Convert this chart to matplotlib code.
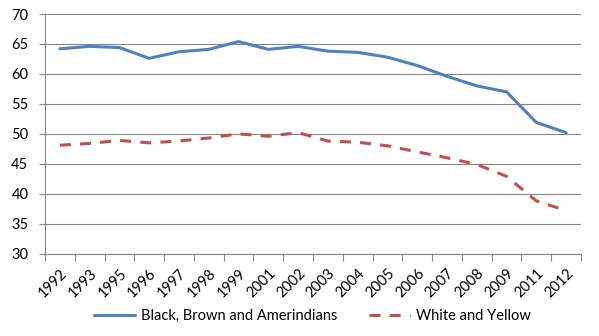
import matplotlib
matplotlib.use("Agg")
import matplotlib.pyplot as plt
import numpy as np

years = ["1992", "1993", "1995", "1996", "1997", "1998", "1999", "2001", "2002",
         "2003", "2004", "2005", "2006", "2007", "2008", "2009", "2011", "2012"]
black_brown = [64.2, 64.6, 64.4, 62.6, 63.7, 64.1, 65.4, 64.1, 64.6,
               63.8, 63.6, 62.8, 61.4, 59.6, 58.0, 57.0, 51.9, 50.2]
white_yellow = [48.1, 48.4, 48.9, 48.5, 48.8, 49.3, 50.0, 49.6, 50.2,
                48.8, 48.6, 48.0, 47.0, 46.0, 44.9, 42.9, 38.8, 37.2]
series_names = ["Black, Brown and Amerindians", "White and Yellow"]
yticks = [30, 35, 40, 45, 50, 55, 60, 65, 70]

plt.rcParams['font.family'] = ['Lato', 'DejaVu Sans']

fig = plt.figure(figsize=(5.99, 3.36), dpi=100)
ax = fig.add_axes([0.0751, 0.245, 0.8949, 0.7133])

x = np.arange(len(years)) + 0.5
gray = "#868686"
ax.plot(x, black_brown, color="#4F81BD", lw=2.2, solid_capstyle="round",
        label=series_names[0], zorder=3)
ax.plot(x, white_yellow, color="#C0504D", lw=2.2, linestyle=(0, (3.6, 3.0)),
        label=series_names[1], zorder=3)

ax.set_xlim(0, len(years))
ax.set_ylim(30, 70)
ax.set_yticks(yticks)
ax.set_yticklabels([str(v) for v in yticks], fontsize=10.5)
ax.grid(axis="y", color=gray, lw=0.8)
ax.set_axisbelow(True)

ax.set_xticks(np.arange(len(years) + 1))
ax.set_xticklabels([])
ax.set_xticks(x, minor=True)
ax.set_xticklabels(years, minor=True, rotation=45, ha="right",
                   rotation_mode="anchor", fontsize=10.5)
ax.tick_params(axis="x", which="minor", length=0, pad=9)
ax.tick_params(axis="x", which="major", length=5, color=gray, width=0.8)
ax.tick_params(axis="y", length=4, color=gray, width=0.8, pad=8)

for s in ["top", "right"]:
    ax.spines[s].set_visible(False)
for s in ["left", "bottom"]:
    ax.spines[s].set_color(gray)
    ax.spines[s].set_linewidth(0.8)

leg = fig.legend(loc="center", bbox_to_anchor=(0.522, 0.06), ncol=2, frameon=False,
                 fontsize=10.5, handlelength=2.8, columnspacing=2.2, handletextpad=0.4)

fig.savefig("out.png", dpi=100)
